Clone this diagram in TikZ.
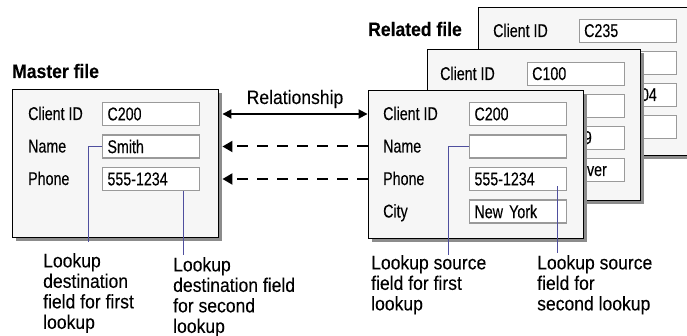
\documentclass[tikz,border=0pt]{standalone}
\usepackage{fontspec}
\setmainfont{Liberation Sans}[FakeStretch=0.9,FakeBold=0.15]
\newfontfamily\fieldfont{Liberation Sans}[FakeStretch=0.77,FakeBold=0.15]
\usetikzlibrary{arrows.meta,positioning,shadows,calc}
\definecolor{paper}{HTML}{F6F6F6}
\definecolor{shade}{HTML}{8C8C8C}
\definecolor{rim}{HTML}{9A9A9A}
\definecolor{lead}{HTML}{4F4F9E}
\begin{document}
\begin{tikzpicture}[x=1pt,y=-1pt,>={Triangle[length=9pt,width=9pt]},
 filebox/.style={draw=black,line width=.9pt,fill=paper,
  drop shadow={shadow xshift=4pt,shadow yshift=-4pt,fill=shade,opacity=1}},
 fieldbox/.style={draw=rim,line width=1.1pt,fill=white,minimum height=23pt,
  text width=87pt,align=left,inner xsep=5pt,font=\fieldfont\fontsize{18.5}{20}\selectfont},
 fieldlab/.style={anchor=base west,inner sep=0pt,font=\fieldfont\fontsize{18.5}{20}\selectfont},
 value/.style={anchor=base east,inner sep=0pt,font=\fieldfont\fontsize{18.5}{20}\selectfont},
 title/.style={anchor=base west,inner sep=0pt,font=\fontsize{19.5}{20}\selectfont\bfseries},
 note/.style={anchor=north west,inner sep=0pt,align=left,font=\fontsize{19.5}{20.5}\selectfont},
 leadline/.style={draw=lead,line width=1pt},
 link/.style={line width=1.8pt},
 lookup/.style={line width=2pt,dash pattern=on 11pt off 9pt,
  -{Triangle[length=10pt,width=11pt,sep=0pt]}}]
\clip (0,0) rectangle (687,336);
\node[filebox,minimum width=222pt,minimum height=148pt] (back) at (589,81) {};
\node[fieldlab] at (493,37) {Client ID};
\foreach \y/\n in {31/a,63/b,95/c,127/d} \node[fieldbox] (b\n) at (628,\y) {};
\node[fieldlab] at (584,37) {C235};
\node[value] at (657,101) {555-1204};
\node[filebox,minimum width=213pt,minimum height=151pt] (middle) at (533.5,124.5) {};
\node[fieldlab] at (440,80) {Client ID};
\foreach \y/\n in {74/a,106/b,138/c,170/d} \node[fieldbox] (c\n) at (576,\y) {};
\node[fieldlab] at (532,80) {C100};
\node[value] at (592,144) {555-6789};
\node[value] at (607,176) {Vancouver};
\node[title] at (368,36) {Related file};
\node[filebox,minimum width=215pt,minimum height=148pt] (front) at (475.5,164) {};
\foreach \lab/\val/\y/\n in {Client ID/C200/114/cid,Name//146.5/name,Phone/555-1234/179/phone,City/New York/211.5/city}{
 \node[fieldlab] at (383,\y+6) {\lab};
 \node[fieldbox] (f\n) at (518,\y) {\val};
}
\node[title] at (12,78) {Master file};
\node[filebox,minimum width=206pt,minimum height=148pt] (master) at (115,163) {};
\foreach \lab/\val/\y/\n in {Client ID/C200/114/cid,Name/Smith/146.5/name,Phone/555-1234/179/phone}{
 \node[fieldlab] at (28,\y+6) {\lab};
 \node[fieldbox] (m\n) at (151,\y) {\val};
}
\draw[link,<->] ($(master.east |- fcid)+(4,0)$) -- (front.west |- fcid)
 node[midway,anchor=base,yshift=10pt,font=\fontsize{19.5}{20}\selectfont] {Relationship};
\foreach \n in {name,phone} \draw[lookup] (front.west |- f\n) -- ($(master.east |- f\n)+(4,0)$);
\coordinate (mleadA) at (88,242);
\coordinate (mleadB) at (183,255);
\coordinate (fleadA) at (448,255);
\coordinate (fleadB) at (557,253);
\draw[leadline] (mname.west) -| (mleadA);
\draw[leadline] (mleadB |- mphone.south) -- (mleadB);
\draw[leadline] (fname.west) -| (fleadA);
\draw[leadline,shorten <=-5pt] (fleadB |- fphone.south) -- (fleadB);
\node[note] (mnoteA) at (43,253) {Lookup\\destination\\field for first\\lookup};
\node[note] (mnoteB) at (173,257) {Lookup\\destination field\\for second\\lookup};
\node[note] (fnoteA) at (371,255) {Lookup source\\field for first\\lookup};
\node[note] (fnoteB) at (537,255) {Lookup source\\field for\\second lookup};
\end{tikzpicture}
\end{document}
